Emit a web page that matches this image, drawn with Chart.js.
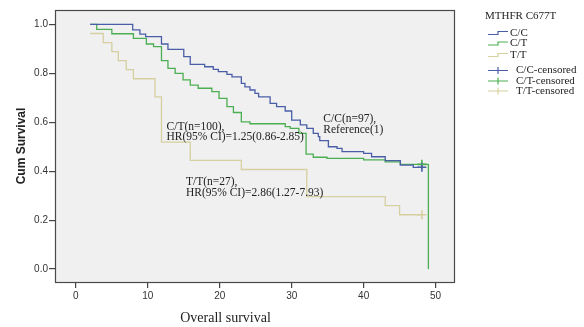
<!DOCTYPE html>
<html>
<head>
<meta charset="utf-8">
<script src="https://cdn.jsdelivr.net/npm/chart.js@4/dist/chart.umd.min.js"></script>
<style>
html,body{margin:0;padding:0;background:#fff;}
#wrap{width:584px;height:327px;position:relative;}
</style>
</head>
<body>
<div id="wrap"><canvas id="c" width="584" height="327"></canvas></div>
<script>
// ---- data ----
const seriesNames = ['C/C', 'C/T', 'T/T'];
const censoredNames = ['C/C-censored', 'C/T-censored', 'T/T-censored'];
const legendTitle = 'MTHFR C677T';
const xTitle = 'Overall survival';
const yTitle = 'Cum Survival';
const xTickValues = [0, 10, 20, 30, 40, 50];
const yTickValues = [0, 0.2, 0.4, 0.6, 0.8, 1.0];
const yTickLabels = ['0.0', '0.2', '0.4', '0.6', '0.8', '1.0'];

const ccTime = [2.0,7.9,8.9,9.7,11.9,12.8,15.0,15.9,17.9,19.1,19.8,21.0,21.7,23.0,23.5,24.2,24.9,25.4,27.0,27.9,29.1,30.0,31.2,32.1,33.0,33.7,33.9,35.1,36.3,37.0,40.0,41.1,43.0,45.1,46.9,48.1];
const ccSurv = [1.0,0.978,0.96,0.95,0.92,0.898,0.868,0.837,0.827,0.816,0.807,0.796,0.786,0.759,0.745,0.732,0.718,0.704,0.677,0.664,0.646,0.609,0.589,0.575,0.555,0.541,0.525,0.50,0.493,0.48,0.473,0.459,0.443,0.425,0.416,0.416];

const ctTime = [2.0,2.9,5.0,8.0,9.8,10.8,11.9,12.8,13.8,14.9,15.9,17.0,18.9,19.9,21.0,21.9,23.0,24.2,29.1,29.8,31.0,32.0,33.0,34.9,40.0,43.0,45.1,48.1,49.0];
const ctSurv = [1.0,0.98,0.962,0.943,0.92,0.909,0.852,0.82,0.80,0.773,0.752,0.739,0.725,0.698,0.664,0.64,0.602,0.594,0.582,0.575,0.555,0.47,0.457,0.452,0.446,0.438,0.428,0.428,0.0];

const ttTime = [2.0,3.8,5.0,5.9,7.0,8.0,11.0,11.9,15.9,23.0,32.1,43.0,45.0,48.1];
const ttSurv = [0.963,0.926,0.889,0.852,0.815,0.778,0.704,0.519,0.444,0.407,0.296,0.259,0.222,0.222];

const censTime = [48.1, 48.1, 48.1];
const censSurv = [0.416, 0.428, 0.222];

const annotations = [
  ['C/T(n=100),', 'HR(95% CI)=1.25(0.86-2.85)'],
  ['T/T(n=27),', 'HR(95% CI)=2.86(1.27-7.93)'],
  ['C/C(n=97),', 'Reference(1)']
];

// ---- styles ----
const colors = ['#4a5ea8', '#4cae52', '#d6cfa0'];
const annotPos = [[12.6, 0.582], [15.3, 0.354], [34.4, 0.613]];
const serif = '"Liberation Serif", "Times New Roman", serif';
const sans = '"Liberation Sans", Arial, sans-serif';

function pts(t, s) { return t.map((v, i) => ({x: v, y: s[i]})); }

const curves = [pts(ccTime, ccSurv), pts(ctTime, ctSurv), pts(ttTime, ttSurv)];

const datasets = [];
curves.forEach((d, i) => {
  datasets.push({
    type: 'line', label: seriesNames[i], data: d, stepped: true,
    borderColor: colors[i], borderWidth: 1.3, pointRadius: 0, fill: false
  });
});
censTime.forEach((t, i) => {
  datasets.push({
    type: 'scatter', label: censoredNames[i], data: [{x: t, y: censSurv[i]}],
    pointStyle: 'cross', pointRadius: 4.5, borderColor: colors[i], borderWidth: 1.6,
    backgroundColor: colors[i], showLine: false
  });
});

const decor = {
  id: 'decor',
  beforeDatasetsDraw(chart) {
    const {ctx, chartArea: a} = chart;
    ctx.save();
    ctx.fillStyle = '#f0f0f0';
    ctx.fillRect(a.left, a.top, a.right - a.left, a.bottom - a.top);
    ctx.restore();
  },
  afterDraw(chart) {
    const {ctx, chartArea: a, scales} = chart;
    ctx.save();
    ctx.strokeStyle = '#4a4a4a';
    ctx.lineWidth = 1.2;
    ctx.strokeRect(a.left + 0.5, a.top + 0.5, a.right - a.left - 1, a.bottom - a.top);
    // annotations
    ctx.fillStyle = '#222';
    ctx.font = '11.5px ' + serif;
    ctx.textAlign = 'left';
    ctx.textBaseline = 'middle';
    annotations.forEach((lines, i) => {
      const x = scales.x.getPixelForValue(annotPos[i][0]);
      const y = scales.y.getPixelForValue(annotPos[i][1]);
      lines.forEach((l, j) => ctx.fillText(l, x, y + j * 10.5));
    });
    // axis titles
    ctx.font = '14px ' + serif;
    ctx.textAlign = 'center';
    ctx.fillText(xTitle, scales.x.getPixelForValue(20.8), 318);
    ctx.save();
    ctx.translate(22, (a.top + a.bottom) / 2);
    ctx.rotate(-Math.PI / 2);
    ctx.font = 'bold 12px ' + sans;
    ctx.fillText(yTitle, 0, 0);
    ctx.restore();
    // legend
    ctx.font = '11px ' + serif;
    ctx.textAlign = 'left';
    ctx.fillStyle = '#222';
    ctx.fillText(legendTitle, 485, 16);
    const lx = 488;
    const rows1 = [33, 43.5, 55];
    seriesNames.forEach((n, i) => {
      const y = rows1[i];
      ctx.strokeStyle = colors[i];
      ctx.lineWidth = 1.2;
      ctx.beginPath();
      ctx.moveTo(lx, y + 1.5); ctx.lineTo(lx + 10, y + 1.5); ctx.lineTo(lx + 10, y - 1.5); ctx.lineTo(lx + 20, y - 1.5);
      ctx.stroke();
      ctx.fillStyle = '#222';
      ctx.fillText(n, lx + 22, y);
    });
    const rows2 = [70.5, 81, 91];
    censoredNames.forEach((n, i) => {
      const y = rows2[i];
      ctx.strokeStyle = colors[i];
      ctx.lineWidth = 1.2;
      ctx.beginPath();
      ctx.moveTo(lx, y); ctx.lineTo(lx + 20, y);
      ctx.moveTo(lx + 10, y - 3.5); ctx.lineTo(lx + 10, y + 3.5);
      ctx.stroke();
      ctx.fillStyle = '#222';
      ctx.fillText(n, lx + 28, y);
    });
    ctx.restore();
  }
};

new Chart(document.getElementById('c'), {
  type: 'line',
  data: {datasets},
  options: {
    responsive: false,
    animation: false,
    events: [],
    layout: {padding: {left: 0, right: 129, top: 10, bottom: 0}},
    plugins: {legend: {display: false}, tooltip: {enabled: false}},
    scales: {
      x: {
        type: 'linear', min: -2.9, max: 52.7,
        afterFit(s) { s.height = 45; },
        afterBuildTicks(s) { s.ticks = xTickValues.map(v => ({value: v})); },
        grid: {display: true, drawOnChartArea: false, drawTicks: true, tickLength: 6, color: '#444', lineWidth: 1.2},
        border: {display: false},
        ticks: {color: '#333', font: {family: sans, size: 10}, padding: 2, maxRotation: 0,
          callback: (v) => String(v)}
      },
      y: {
        type: 'linear', min: -0.053, max: 1.059,
        afterFit(s) { s.width = 55; },
        afterBuildTicks(s) { s.ticks = yTickValues.map(v => ({value: v})); },
        grid: {display: true, drawOnChartArea: false, drawTicks: true, tickLength: 6, color: '#444', lineWidth: 1.2},
        border: {display: false},
        ticks: {color: '#333', font: {family: sans, size: 10}, padding: 1,
          callback: (v) => yTickLabels[yTickValues.findIndex(t => Math.abs(t - v) < 1e-9)]}
      }
    }
  },
  plugins: [decor]
});
</script>
</body>
</html>
